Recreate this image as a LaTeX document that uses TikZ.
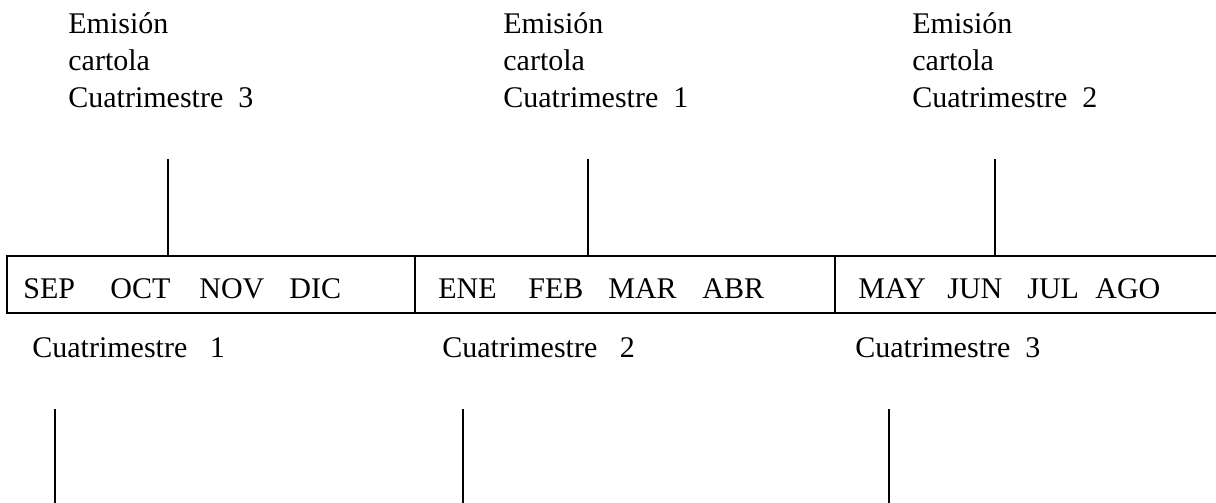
\documentclass[tikz,border=0pt]{standalone}
\usepackage{fontspec}
\setmainfont{Liberation Serif}

\begin{document}
\begin{tikzpicture}[x=0.5pt,y=-0.5pt]
    \tikzset { txt/.style = { anchor=base west, inner sep=0pt, align=left, font=\fontsize{15}{18.5}\selectfont } }
    \tikzset { rule/.style = { line width=0.65pt } }

    \useasboundingbox (0,0) rectangle (1216,503);

    % the bar of months
    \coordinate (barNW) at (7,256);
    \coordinate (barSW) at (7,313);
    \coordinate (barNE) at (1216,256);
    \coordinate (barSE) at (1216,313);
    \coordinate (divA) at (415,256);
    \coordinate (divB) at (835,256);

    \draw[rule] (barNE) -- (barNW) -- (barSW) -- (barSE);
    \draw[rule] (divA) -- (divA |- barSW);
    \draw[rule] (divB) -- (divB |- barSW);

    \foreach \x/\m [count=\i] in {23/SEP, 110/OCT, 199/NOV, 289/DIC,
                                  438/ENE, 528/FEB, 608/MAR, 702/ABR,
                                  858/MAY, 947/JUN, 1027/JUL, 1095/AGO}
      \node[txt] (m\i) at (\x,298) {\m};

    % issue of the statements (base = last line)
    \node[txt] (emi3) at (68,107)  {Emisión\\cartola\\Cuatrimestre\ \ 3};
    \node[txt] (emi1) at (503,107) {Emisión\\cartola\\Cuatrimestre\ \ 1};
    \node[txt] (emi2) at (912,107) {Emisión\\cartola\\Cuatrimestre\ \ 2};

    \coordinate (up3) at (168,159);
    \coordinate (up1) at (588,159);
    \coordinate (up2) at (995,159);

    \draw[rule] (up3) -- (up3 |- barNW);
    \draw[rule] (up1) -- (up1 |- barNW);
    \draw[rule] (up2) -- (up2 |- barNW);

    % the four-month periods
    \node[txt] (cua1) at (32,357)  {Cuatrimestre\ \ \ 1};
    \node[txt] (cua2) at (442,357) {Cuatrimestre\ \ \ 2};
    \node[txt] (cua3) at (855,357) {Cuatrimestre\ \ 3};

    \coordinate (low1) at (55,409);
    \coordinate (low2) at (463,409);
    \coordinate (low3) at (889,409);

    \draw[rule] (low1) -- ++(0,94);
    \draw[rule] (low2) -- ++(0,94);
    \draw[rule] (low3) -- ++(0,94);

  \end{tikzpicture}
\end{document}
